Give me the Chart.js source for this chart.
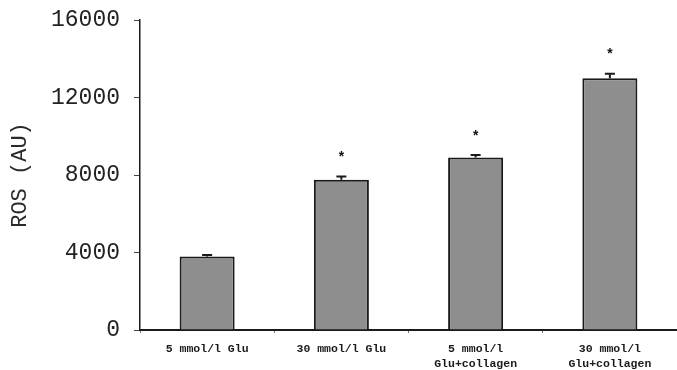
<!DOCTYPE html>
<html>
<head>
<meta charset="utf-8">
<script src="https://cdn.jsdelivr.net/npm/chart.js@4/dist/chart.umd.min.js"></script>
<style>
  html, body { margin: 0; padding: 0; background: #ffffff; }
  #chartBox { width: 677px; height: 370px; }
</style>
</head>
<body>
<div id="chartBox"><canvas id="rosChart"></canvas></div>
<script>
// data
const groups = ['5 mmol/l Glu', '30 mmol/l Glu', ['5 mmol/l', 'Glu+collagen'], ['30 mmol/l', 'Glu+collagen']];
const rosValues = [3800, 7750, 8900, 13000];
const rosErrors = [70, 170, 130, 230];
const significant = [false, true, true, true];
const yTicks = [0, 4000, 8000, 12000, 16000];

// draws the upper error bar and the * marker from the data
const errorBarPlugin = {
    id: 'errorBars',
    afterDatasetsDraw(chart) {
        const ctx = chart.ctx;
        const meta = chart.getDatasetMeta(0);
        const yScale = chart.scales.y;
        ctx.save();
        ctx.strokeStyle = '#1a1a1a';
        ctx.lineWidth = 2;
        meta.data.forEach((bar, i) => {
            const top = yScale.getPixelForValue(rosValues[i] + rosErrors[i]);
            ctx.beginPath();
            ctx.moveTo(bar.x, bar.y);
            ctx.lineTo(bar.x, top);
            ctx.moveTo(bar.x - 5, top);
            ctx.lineTo(bar.x + 5, top);
            ctx.stroke();
            if (significant[i]) {
                ctx.fillStyle = '#111';
                ctx.font = 'bold 14px "Liberation Mono"';
                ctx.textAlign = 'center';
                ctx.textBaseline = 'middle';
                ctx.fillText('*', bar.x, top - 18);
            }
        });
        ctx.restore();
    }
};

const ctx = document.getElementById('rosChart').getContext('2d');
new Chart(ctx, {
    type: 'bar',
    data: {
        labels: groups,
        datasets: [{
            label: 'ROS',
            data: rosValues,
            backgroundColor: '#8e8e8e',
            borderColor: '#1a1a1a',
            borderWidth: 2,
            borderSkipped: 'bottom',
            barPercentage: 0.41,
            categoryPercentage: 1.0
        }]
    },
    options: {
        responsive: true,
        maintainAspectRatio: false,
        animation: false,
        layout: { padding: { top: 20, right: 0, left: 0, bottom: 0 } },
        plugins: {
            legend: { display: false },
            tooltip: { enabled: false }
        },
        scales: {
            x: {
                grid: {
                    display: true,
                    offset: true,
                    drawOnChartArea: false,
                    tickLength: 3,
                    color: '#777'
                },
                border: { color: '#1a1a1a', width: 2 },
                ticks: {
                    color: '#1a1a1a',
                    padding: 8,
                    maxRotation: 0,
                    autoSkip: false,
                    font: { family: 'Liberation Mono', size: 11.5, weight: 'bold', lineHeight: 1.35 }
                },
                afterFit(scale) {
                    scale.height = 40;
                    scale.paddingLeft = 0;
                    scale.paddingRight = 0;
                }
            },
            y: {
                min: 0,
                max: 16000,
                afterBuildTicks(scale) {
                    scale.ticks = yTicks.map(v => ({ value: v }));
                },
                grid: {
                    display: true,
                    drawOnChartArea: false,
                    tickLength: 6,
                    color: '#444'
                },
                border: { color: '#1a1a1a', width: 1.5 },
                title: {
                    display: true,
                    text: 'ROS (AU)',
                    color: '#2a2a2a',
                    padding: { top: 7, bottom: 0 },
                    font: { family: 'Liberation Mono', size: 22, lineHeight: 1.2 }
                },
                ticks: {
                    color: '#222',
                    padding: 14,
                    font: { family: 'Liberation Mono', size: 23 },
                    callback: v => String(v)
                },
                afterFit(scale) {
                    scale.width = 140;
                    scale.paddingTop = 0;
                    scale.paddingBottom = 0;
                }
            }
        }
    },
    plugins: [errorBarPlugin]
});
</script>
</body>
</html>
